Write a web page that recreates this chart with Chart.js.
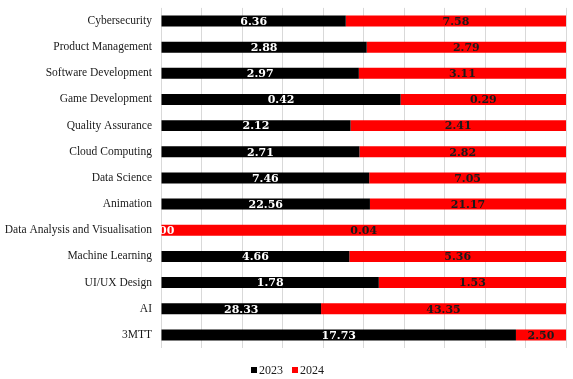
<!DOCTYPE html>
<html>
<head>
<meta charset="utf-8">
<script src="https://cdn.jsdelivr.net/npm/chart.js@4/dist/chart.umd.min.js"></script>
<style>
html,body{margin:0;padding:0;background:#fff;}
#wrap{width:573px;height:379px;position:relative;}
</style>
</head>
<body>
<div id="wrap"><canvas id="c" width="573" height="379"></canvas></div>
<script>
const categories = ["Cybersecurity","Product Management","Software Development","Game Development","Quality Assurance","Cloud Computing","Data Science","Animation","Data Analysis and Visualisation","Machine Learning","UI/UX Design","AI","3MTT"];
const values2023 = [6.36,2.88,2.97,0.42,2.12,2.71,7.46,22.56,0.00,4.66,1.78,28.33,17.73];
const values2024 = [7.58,2.79,3.11,0.29,2.41,2.82,7.05,21.17,0.04,5.36,1.53,43.35,2.50];
const seriesNames = ["2023","2024"];
const seriesColors = ["#000000","#ff0000"];

const share = (a, b) => a.map((v, i) => (a[i] + b[i]) ? v / (a[i] + b[i]) * 100 : 0);
const pct2023 = share(values2023, values2024);
const pct2024 = share(values2024, values2023);

const SERIF = "'DejaVu Serif', 'Liberation Serif', serif";
const CATFONT = "'Liberation Serif', serif";

const labelPlugin = {
  id: 'segLabels',
  afterDatasetsDraw(chart) {
    const ctx = chart.ctx;
    const a = chart.chartArea;
    const raws = [values2023, values2024];
    const colors = ['#ffffff', '#1a1a1a'];
    ctx.save();
    ctx.beginPath();
    ctx.rect(a.left, a.top, a.right - a.left, a.bottom - a.top);
    ctx.clip();
    ctx.font = "bold 11px " + SERIF;
    ctx.textAlign = 'center';
    ctx.textBaseline = 'middle';
    chart.data.datasets.forEach((ds, di) => {
      const meta = chart.getDatasetMeta(di);
      meta.data.forEach((el, i) => {
        const p = el.getProps(['x', 'base', 'y'], true);
        ctx.fillStyle = colors[di];
        ctx.fillText(raws[di][i].toFixed(2), (p.x + p.base) / 2, p.y + 1);
      });
    });
    ctx.restore();
  }
};

const legendPlugin = {
  id: 'bottomLegend',
  afterDraw(chart) {
    const ctx = chart.ctx;
    ctx.save();
    ctx.font = "12px " + CATFONT;
    ctx.textBaseline = 'middle';
    const box = 6, gap = 2, between = 9;
    const widths = seriesNames.map(n => box + gap + ctx.measureText(n).width);
    const total = widths.reduce((a, b) => a + b, 0) + between * (seriesNames.length - 1);
    let x = (chart.width - total) / 2 + 1;
    const y = 371;
    seriesNames.forEach((n, i) => {
      ctx.fillStyle = seriesColors[i];
      ctx.fillRect(x, y - box / 2 - 1, box, box);
      ctx.fillStyle = '#1a1a1a';
      ctx.fillText(n, x + box + gap, y);
      x += widths[i] + between;
    });
    ctx.restore();
  }
};

new Chart(document.getElementById('c'), {
  type: 'bar',
  data: {
    labels: categories,
    datasets: [
      {label: seriesNames[0], data: pct2023, backgroundColor: seriesColors[0], barPercentage: 0.42, categoryPercentage: 1.0},
      {label: seriesNames[1], data: pct2024, backgroundColor: seriesColors[1], barPercentage: 0.42, categoryPercentage: 1.0}
    ]
  },
  options: {
    indexAxis: 'y',
    responsive: false,
    animation: false,
    devicePixelRatio: 1,
    layout: {padding: {left: 0, right: 7, top: 0, bottom: 31}},
    scales: {
      x: {
        stacked: true, min: 0, max: 100,
        ticks: {display: false, stepSize: 10},
        grid: {color: '#d9d9d9', lineWidth: 1, drawTicks: false},
        border: {display: false}
      },
      y: {
        stacked: true,
        ticks: {color: '#1a1a1a', font: {family: CATFONT, size: 11.5}, padding: 1, autoSkip: false},
        grid: {display: true, drawOnChartArea: false, drawTicks: true, tickLength: 8, color: 'rgba(0,0,0,0)'},
        border: {display: false},
        afterFit(scale) { scale.width = 161; }
      }
    },
    plugins: {
      legend: {display: false},
      tooltip: {enabled: false}
    }
  },
  plugins: [labelPlugin, legendPlugin]
});
</script>
</body>
</html>
